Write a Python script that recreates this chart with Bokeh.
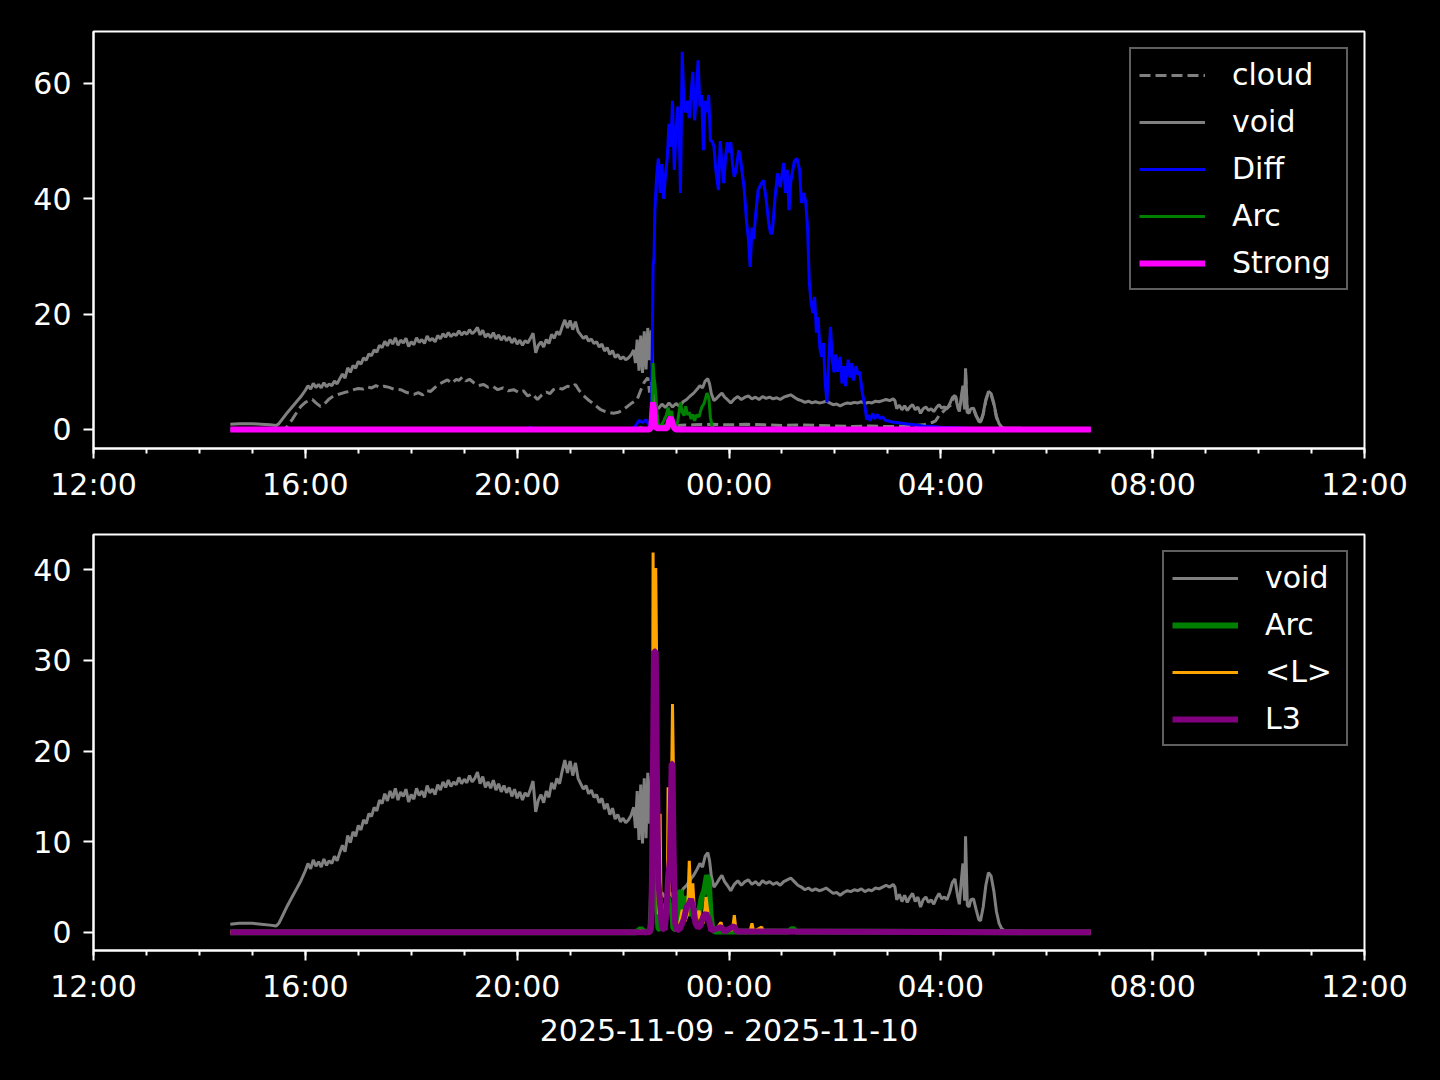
import pandas as pd
from bokeh.plotting import figure
from bokeh.layouts import column
from bokeh.models import FixedTicker, DatetimeTickFormatter, Legend, LegendItem, Range1d
from bokeh.embed import file_html
from bokeh.resources import INLINE

# ---------------- data (times as HH:MM; >=12h -> 2025-11-09, else 2025-11-10) -------------
void_t = ["14:35","14:45","15:00","15:10","15:20","15:27","15:30","15:35","15:40","15:45","15:50","15:55",
          "16:00","16:03","16:06","16:09","16:12","16:15","16:18","16:21","16:24","16:27","16:30","16:33",
          "16:36","16:39","16:42","16:45","16:48","16:51","16:54","16:57","17:00","17:03","17:06","17:09",
          "17:12","17:15","17:18","17:21","17:24","17:27","17:30","17:33","17:36","17:39","17:42","17:45",
          "17:48","17:51","17:54","17:57","18:00","18:03","18:06","18:09","18:12","18:15","18:18","18:21",
          "18:24","18:27","18:30","18:33","18:36","18:39","18:42","18:45","18:48","18:51","18:54","18:57",
          "19:00","19:03","19:06","19:09","19:12","19:15","19:18","19:21","19:24","19:27","19:30","19:33",
          "19:36","19:39","19:42","19:45","19:48","19:51","19:54","19:57","20:00","20:03","20:06","20:09",
          "20:12","20:15","20:18","20:21","20:24","20:27","20:30","20:33","20:36","20:39","20:42","20:45",
          "20:48","20:51","20:54","20:57","21:00","21:03","21:06","21:09","21:12","21:15","21:18","21:21",
          "21:24","21:27","21:30","21:33","21:36","21:39","21:42","21:45","21:48","21:51","21:54","21:57",
          "22:00","22:03","22:06","22:09","22:12","22:14","22:16","22:18","22:20","22:22","22:24","22:26",
          "22:28","22:30","22:32","22:34","22:36","22:40","22:44","22:48","22:52","22:56","23:00","23:04",
          "23:08","23:12","23:16","23:20","23:24","23:27","23:30","23:33","23:36","23:38","23:40","23:43",
          "23:46","23:49","23:52","23:55","23:58","00:02","00:06","00:10","00:14","00:18","00:22","00:26",
          "00:30","00:34","00:38","00:42","00:46","00:50","00:54","00:58","01:02","01:06","01:10","01:14",
          "01:18","01:22","01:26","01:30","01:34","01:38","01:42","01:46","01:50","01:54","01:58","02:02",
          "02:06","02:10","02:14","02:18","02:22","02:26","02:30","02:34","02:38","02:42","02:46","02:50",
          "02:54","02:58","03:02","03:06","03:08","03:10","03:13","03:16","03:19","03:22","03:25","03:28",
          "03:31","03:34","03:37","03:40","03:43","03:46","03:49","03:52","03:55","03:58","04:01","04:04",
          "04:07","04:10","04:13","04:16","04:19","04:21","04:23","04:25","04:27","04:28","04:30","04:32",
          "04:34","04:37","04:40","04:43","04:45","04:48","04:51","04:54","04:57","05:00","05:03","05:06",
          "05:09","05:12","05:30","05:35","06:50"]
void_v = [0.9,1.0,1.0,0.9,0.8,0.7,1.0,2.0,3.0,3.9,4.8,5.7,
          6.8,7.6,7.0,8.0,7.3,7.8,7.2,8.1,7.4,7.9,7.6,8.4,
          7.9,8.8,9.6,8.9,10.7,9.9,11.1,10.6,11.8,11.3,12.4,12.0,
          13.1,12.8,13.8,13.4,14.6,14.2,15.3,14.5,15.6,14.8,15.9,14.6,
          15.5,15.0,15.8,14.4,15.2,14.7,15.9,15.1,15.6,14.9,16.2,15.4,
          15.8,15.2,16.3,15.7,16.6,16.0,16.8,16.1,16.6,16.3,17.1,16.4,
          16.9,16.5,17.3,16.6,17.0,17.7,16.4,17.2,16.0,16.6,15.9,16.8,
          15.7,16.4,15.5,16.2,15.4,16.0,15.0,15.8,14.8,15.5,14.6,15.4,
          15.0,15.8,16.7,13.3,14.6,15.2,14.3,15.6,14.9,16.5,15.8,17.0,
          16.4,17.8,19.0,17.6,18.9,17.3,18.7,17.0,16.4,15.8,16.2,15.3,
          15.7,14.9,15.2,14.3,14.8,13.6,14.2,13.0,13.7,12.5,13.0,12.2,
          12.6,12.1,12.4,12.9,13.8,11.5,15.6,10.2,16.3,9.8,17.0,10.4,
          17.6,12.0,17.2,6.5,4.2,3.6,4.4,3.8,4.6,3.9,4.5,4.0,
          4.8,5.2,5.8,6.3,7.0,7.6,7.2,8.4,8.8,7.9,6.2,5.0,
          5.4,5.9,6.3,5.6,5.2,4.6,5.3,5.7,5.2,5.6,5.8,5.3,
          5.6,5.2,5.7,5.4,5.6,5.3,5.5,5.2,5.6,5.8,6.0,5.6,
          5.2,5.0,4.7,4.9,4.6,4.8,4.6,4.7,4.9,4.6,4.3,4.4,
          4.1,4.4,4.6,4.5,4.7,4.6,4.8,4.5,4.7,4.6,4.9,4.8,
          5.0,5.2,5.0,5.3,5.0,3.6,4.2,3.4,4.1,3.3,3.9,4.3,
          3.4,3.9,2.8,3.6,3.9,3.3,3.6,3.1,3.8,4.3,3.7,3.9,
          3.6,4.4,5.5,5.9,4.0,3.1,5.5,7.6,3.5,10.6,3.0,2.8,
          3.6,3.7,2.5,1.4,1.3,2.8,5.2,6.6,6.2,4.6,2.3,1.0,
          0.4,0.2,0.2,0.0,0.0]

cloud_t = ["14:35","15:36","15:40","15:45","15:50","15:55","16:00","16:04","16:08","16:12","16:17","16:22",
           "16:27","16:32","16:38","16:44","16:50","16:55","17:00","17:05","17:10","17:15","17:20","17:25",
           "17:29","17:35","17:40","17:48","17:55","18:03","18:08","18:13","18:18","18:22","18:27","18:32",
           "18:37","18:41","18:46","18:51","18:54","18:58","19:02","19:06","19:11","19:16","19:22","19:27",
           "19:32","19:38","19:44","19:50","19:56","20:02","20:07","20:12","20:17","20:23","20:28","20:33",
           "20:37","20:41","20:46","20:51","20:57","21:01","21:06","21:10","21:15","21:20","21:25","21:30",
           "21:34","21:40","21:45","21:49","21:55","22:00","22:05","22:10","22:16","22:20","22:24","22:28",
           "22:30","22:32","22:34","22:36","22:45","23:00","23:20","23:40","00:00","00:20","00:40","01:00",
           "01:20","01:40","02:00","02:20","02:40","03:00","03:20","03:40","03:50","03:54","03:58","04:02",
           "04:06","04:11","04:14","04:17","04:20","04:23","04:25","04:27","04:28","04:30","04:34","04:37",
           "04:40","04:45","04:48","04:51","04:54","04:57","05:00","05:03","05:06","05:10","05:14","06:50"]
cloud_v = [0.0,0.0,0.6,1.7,2.9,4.0,4.7,5.0,5.2,4.6,4.0,4.5,
           5.3,5.8,6.1,6.4,6.6,6.9,7.1,7.0,7.4,7.2,7.6,7.3,
           7.5,7.3,7.0,6.9,6.4,6.1,6.4,6.0,6.7,6.6,7.3,7.9,
           8.3,8.6,8.0,8.7,8.5,9.1,8.4,8.7,8.1,7.6,7.8,7.3,
           7.5,6.9,7.2,6.7,6.9,6.4,6.7,5.8,6.2,5.2,6.0,6.5,
           6.2,6.9,7.2,7.0,7.5,7.3,7.8,6.8,5.9,5.2,4.6,4.0,
           3.5,3.1,2.9,2.8,3.0,3.4,4.0,4.6,5.2,6.8,8.2,9.0,
           6.4,8.2,2.4,0.9,0.6,0.7,0.8,0.9,0.8,0.9,0.8,0.7,
           0.8,0.7,0.6,0.5,0.6,0.5,0.6,0.8,1.2,1.5,2.4,3.0,
           3.6,4.2,5.4,5.7,3.4,5.2,7.0,3.6,9.8,2.9,3.4,3.5,
           2.3,1.2,2.6,5.0,6.4,6.0,4.4,2.1,0.9,0.2,0.0,0.0]

diff_t = ["14:35","20:12","20:15","20:18","22:10","22:15","22:18","22:22","22:26","22:30","22:32","22:33",
          "22:34","22:35","22:36","22:38","22:40","22:42","22:44","22:46","22:48","22:50","22:52","22:54",
          "22:56","22:58","23:00","23:02","23:04","23:05","23:07","23:09","23:11","23:13","23:15","23:17",
          "23:19","23:21","23:23","23:25","23:27","23:29","23:31","23:33","23:35","23:37","23:39","23:41",
          "23:43","23:45","23:48","23:50","23:52","23:54","23:56","23:58","00:00","00:02","00:04","00:06",
          "00:08","00:11","00:13","00:15","00:17","00:20","00:22","00:24","00:26","00:28","00:30","00:33",
          "00:36","00:39","00:42","00:45","00:47","00:49","00:52","00:55","00:58","01:02","01:04","01:06",
          "01:08","01:10","01:14","01:17","01:20","01:22","01:25","01:27","01:29","01:31","01:33","01:35",
          "01:37","01:39","01:41","01:43","01:45","01:47","01:49","01:51","01:53","01:55","01:57","01:59",
          "02:01","02:03","02:06","02:08","02:10","02:12","02:15","02:17","02:19","02:21","02:24","02:26",
          "02:28","02:31","02:34","02:36","02:38","02:40","02:43","02:45","02:48","02:51","02:54","02:57",
          "03:00","03:05","03:10","03:20","03:30","03:40","03:50","04:00","04:15","04:30","04:45","05:00",
          "06:50"]
diff_v = [0.0,0.0,0.4,0.0,0.0,0.8,1.6,1.2,1.7,0.5,1.0,14.0,
          28.5,29.5,38.0,44.0,47.0,41.0,46.0,40.0,44.0,47.0,53.0,49.0,
          57.0,45.0,52.0,56.0,49.0,41.0,65.5,56.0,55.0,57.0,54.0,58.0,
          62.0,53.6,58.0,64.0,56.0,58.0,48.4,57.0,55.0,58.0,50.0,50.0,
          49.0,45.0,41.5,50.0,46.0,42.7,47.0,49.8,48.0,49.8,46.0,43.8,
          45.0,48.4,47.0,44.4,42.0,35.8,33.0,28.2,35.0,33.0,37.0,41.5,
          42.5,43.2,40.0,35.8,34.0,34.0,40.0,44.4,42.0,46.2,41.0,45.0,
          38.0,43.0,46.5,47.0,45.0,39.3,41.0,39.3,35.0,25.4,22.0,20.2,
          23.0,16.8,19.5,14.0,12.6,15.0,8.0,4.7,12.0,17.8,12.0,9.9,
          13.0,10.0,12.6,8.0,11.0,7.5,12.1,9.0,11.5,8.5,11.0,9.5,
          10.0,6.4,4.0,1.7,2.5,1.5,2.8,1.8,2.6,1.9,2.2,1.6,
          1.5,1.3,1.2,1.0,0.8,0.6,0.5,0.4,0.3,0.2,0.1,0.0,
          0.0]

arc_t = ["14:35","22:15","22:20","22:25","22:31","22:33","22:34","22:35","22:36","22:38","22:40","22:42",
         "22:46","22:49","22:51","22:53","22:55","22:57","23:00","23:02","23:05","23:07","23:09","23:11",
         "23:13","23:15","23:17","23:19","23:21","23:23","23:26","23:29","23:32","23:35","23:37","23:39",
         "23:41","23:44","00:30","01:08","01:12","01:16","06:50"]
arc_v = [0.0,0.0,0.4,0.0,0.2,5.0,11.5,9.0,8.0,4.0,0.5,0.3,
         1.5,2.5,3.8,2.2,3.2,0.5,0.3,1.5,4.7,3.0,2.4,4.0,
         2.5,3.0,1.8,2.6,1.5,2.5,2.2,3.8,4.6,6.3,5.7,2.0,
         0.5,0.1,0.1,0.1,0.4,0.1,0.0]

strong_t = ["14:35","22:30","22:32","22:33","22:34","22:35","22:36","22:38","22:50","22:52","22:54","22:56",
            "22:58","23:00","06:50"]
strong_v = [0.0,0.0,0.5,3.0,4.7,3.5,1.0,0.2,0.2,1.5,2.1,1.2,
            0.2,0.0,0.0]

lavg_t = ["14:35","22:15","22:20","22:25","22:31","22:33","22:34","22:35","22:36","22:37","22:38","22:39",
          "22:40","22:41","22:42","22:43","22:44","22:45","22:48","22:50","22:51","22:52","22:54","22:56",
          "22:57","22:58","23:00","23:03","23:07","23:10","23:13","23:15","23:17","23:19","23:21","23:23",
          "23:26","23:28","23:31","23:34","23:36","23:39","23:45","23:51","23:53","00:04","00:06","00:08",
          "00:24","00:26","00:28","00:37","00:39","06:50"]
lavg_v = [0.0,0.0,0.2,0.0,0.0,5.0,41.9,20.0,25.0,40.2,30.0,8.0,
          2.0,4.0,13.1,2.0,3.2,0.5,0.4,3.0,16.0,4.0,8.0,25.2,
          18.0,4.0,1.0,0.5,2.5,1.2,2.0,7.9,3.5,5.4,2.0,1.0,
          2.4,1.5,1.0,3.9,2.2,0.5,0.3,1.1,0.2,0.3,1.9,0.2,
          0.2,1.0,0.1,0.6,0.1,0.0]

l3_t = ["14:35","22:30","22:32","22:33","22:35","22:37","22:38","22:40","22:42","22:44","22:47","22:49",
        "22:51","22:53","22:55","22:56","22:57","22:59","23:01","23:05","23:09","23:12","23:15","23:17",
        "23:20","23:22","23:25","23:28","23:31","23:34","23:37","23:40","23:51","23:55","00:06","00:09",
        "06:50"]
l3_v = [0.0,0.0,1.0,8.0,31.0,31.0,20.0,5.7,3.0,0.5,0.3,2.0,
        6.0,8.0,18.6,18.6,10.0,1.0,0.2,0.5,1.5,2.8,3.2,3.7,
        2.5,1.0,0.5,0.8,1.8,2.1,1.5,0.2,0.6,0.1,0.7,0.1,
        0.0]

major_ticks = ["2025-11-09 12:00","2025-11-09 16:00","2025-11-09 20:00","2025-11-10 00:00",
               "2025-11-10 04:00","2025-11-10 08:00","2025-11-10 12:00"]
top_yticks = [0, 20, 40, 60]
bot_yticks = [0, 10, 20, 30, 40]
x_label = "2025-11-09 - 2025-11-10"


def to_dt(ts):
    out = []
    for s in ts:
        h = int(s[:2])
        day = "2025-11-09" if h >= 12 else "2025-11-10"
        out.append(pd.Timestamp(f"{day} {s}"))
    return out


def ms(s):
    return pd.Timestamp(s).value // 10**6


maj = [ms(s) for s in major_ticks]
minor = [ms(pd.Timestamp("2025-11-09 12:00") + pd.Timedelta(hours=h)) for h in range(25)]

xr = Range1d(pd.Timestamp("2025-11-09 12:00"), pd.Timestamp("2025-11-10 12:00"))
FONT = "DejaVu Sans"
FS = "30px"
THIN = 3.0
THICK = 6.0


def make_fig(yr, yticks, frame_h, top, bottom):
    p = figure(x_axis_type="datetime", x_range=xr, y_range=Range1d(*yr),
               frame_width=1271, frame_height=frame_h,
               min_border_left=93, min_border_right=60, min_border_top=top, min_border_bottom=bottom,
               output_backend="svg", toolbar_location=None,
               background_fill_color="black", border_fill_color="black")
    p.xgrid.visible = False
    p.ygrid.visible = False
    p.outline_line_color = "white"
    p.outline_line_width = 2
    p.xaxis.ticker = FixedTicker(ticks=maj, minor_ticks=minor)
    p.xaxis.formatter = DatetimeTickFormatter(hours="%H:%M", hourmin="%H:%M", days="%H:%M",
                                              minutes="%H:%M", months="%H:%M")
    p.yaxis.ticker = FixedTicker(ticks=yticks)
    for ax in (p.xaxis, p.yaxis):
        ax.axis_line_color = "white"
        ax.axis_line_width = 2
        ax.major_tick_line_color = "white"
        ax.major_tick_line_width = 2
        ax.minor_tick_line_color = "white"
        ax.minor_tick_line_width = 2
        ax.major_tick_in = 0
        ax.major_tick_out = 10
        ax.minor_tick_in = 0
        ax.minor_tick_out = 5
        ax.major_label_text_color = "white"
        ax.major_label_text_font = FONT
        ax.major_label_text_font_size = FS
    p.xaxis.major_label_standoff = 8
    p.yaxis.major_label_standoff = 12
    p.yaxis.minor_tick_line_color = None
    return p


def style_legend(items, lw):
    return Legend(items=items, location="top_right", label_text_font=FONT, label_text_font_size=FS,
                  label_text_color="white", background_fill_color="black", background_fill_alpha=1.0,
                  border_line_color="#bdbdbd", border_line_width=2, glyph_width=66, glyph_height=30,
                  label_height=30, label_width=lw, label_standoff=27, spacing=12, padding=8, margin=16)


# ---------------- top panel ----------------
p1 = make_fig((-3.3, 69.0), top_yticks, 417, 31, 62)
r_cloud = p1.line(to_dt(cloud_t), cloud_v, line_color="#808080", line_width=THIN, line_dash="11 5")
r_void1 = p1.line(to_dt(void_t), void_v, line_color="#808080", line_width=THIN)
r_diff = p1.line(to_dt(diff_t), diff_v, line_color="#0000ff", line_width=THIN)
r_arc1 = p1.line(to_dt(arc_t), arc_v, line_color="#008000", line_width=THIN)
r_strong = p1.line(to_dt(strong_t), strong_v, line_color="#ff00ff", line_width=THICK)
p1.add_layout(style_legend([
    LegendItem(label="cloud", renderers=[r_cloud]),
    LegendItem(label="void", renderers=[r_void1]),
    LegendItem(label="Diff", renderers=[r_diff]),
    LegendItem(label="Arc", renderers=[r_arc1]),
    LegendItem(label="Strong", renderers=[r_strong]),
], 106))

# ---------------- bottom panel ----------------
p2 = make_fig((-2.0, 43.9), bot_yticks, 416, 24, 110)
r_void2 = p2.line(to_dt(void_t), void_v, line_color="#808080", line_width=THIN)
r_arc2 = p2.line(to_dt(arc_t), arc_v, line_color="#008000", line_width=THICK)
r_lavg = p2.line(to_dt(lavg_t), lavg_v, line_color="#ffa500", line_width=THIN)
r_l3 = p2.line(to_dt(l3_t), l3_v, line_color="#800080", line_width=THICK)
p2.add_layout(style_legend([
    LegendItem(label="void", renderers=[r_void2]),
    LegendItem(label="Arc", renderers=[r_arc2]),
    LegendItem(label="<L>", renderers=[r_lavg]),
    LegendItem(label="L3", renderers=[r_l3]),
], 73))
p2.xaxis.axis_label = x_label
p2.xaxis.axis_label_text_color = "white"
p2.xaxis.axis_label_text_font = FONT
p2.xaxis.axis_label_text_font_size = FS
p2.xaxis.axis_label_text_font_style = "normal"
p2.xaxis.axis_label_standoff = 6

layout = column(p1, p2, spacing=0, background="black")
html = file_html(layout, INLINE)
html = html.replace("</head>", "<style>html,body{background:#000000;}</style></head>", 1)
open("out.html", "w").write(html)
